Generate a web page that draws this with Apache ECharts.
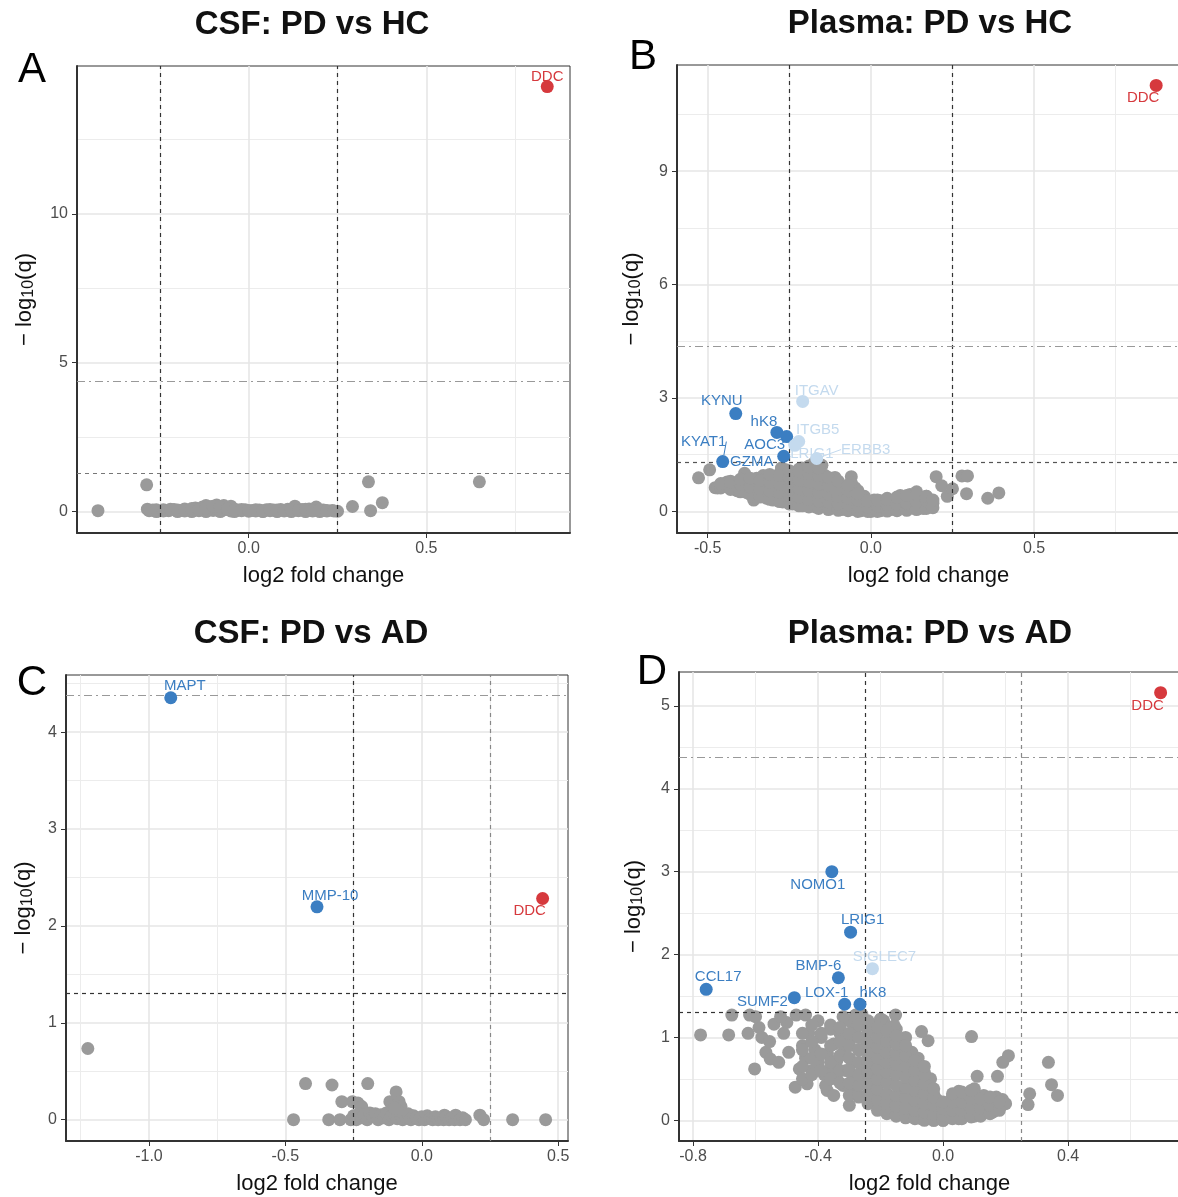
<!DOCTYPE html>
<html><head><meta charset="utf-8">
<script src="https://cdn.jsdelivr.net/npm/echarts@6.0.0/dist/echarts.min.js"></script>
<style>html,body{margin:0;padding:0;background:#fff}#c{width:1178px;height:1197px}</style>
</head><body><div id="c"></div>
<script>
// ================= DATA =================
// thresholds
const fcCut = 0.25;          // |log2 fold change| cut-off
const qCut = 1.301;          // -log10(0.05)
const bonfCut = 4.38;        // stricter (dot-dash) threshold

// Panel A: CSF PD vs HC
const A_grey = [[-0.424,0.03],[-0.287,0.9],[0.337,1.0],[0.649,1.0],[0.292,0.17],[0.343,0.03],[0.376,0.3],
[-0.285,0.08],[-0.27,0.05],[-0.255,0.02],[-0.24,0.06],[-0.225,0.03],[-0.21,0.07],[-0.195,0.04],[-0.18,0.09],[-0.165,0.05],[-0.15,0.12],[-0.14,0.03],[-0.13,0.15],[-0.12,0.08],[-0.11,0.16],[-0.1,0.04],[-0.09,0.14],[-0.08,0.1],[-0.07,0.06],[-0.06,0.12],[-0.05,0.02],[-0.04,0.08],[-0.03,0.05],[-0.02,0.03],[-0.01,0.06],[0.0,0.01],[0.01,0.04],[0.02,0.02],[0.03,0.05],[0.04,0.01],[0.05,0.06],[0.06,0.03],[0.07,0.05],[0.08,0.02],[0.09,0.07],[0.1,0.04],[0.11,0.08],[0.12,0.03],[0.13,0.1],[0.14,0.05],[0.15,0.07],[0.16,0.02],[0.17,0.09],[0.18,0.04],[0.19,0.06],[0.2,0.03],[0.21,0.05],[0.22,0.02],[0.235,0.04],[0.25,0.01],[-0.2,0.0],[-0.16,0.0],[-0.12,0.0],[-0.08,0.0],[-0.04,0.0],[0.04,0.0],[0.08,0.0],[0.12,0.0],[0.16,0.0],[0.2,0.0],[-0.26,0.0],[-0.05,0.18],[-0.12,0.2],[0.13,0.18],[0.19,0.15],[-0.09,0.22],[-0.07,0.2]];
const A_greyDense = [[-0.28,0.03],[-0.26,0.06],[-0.24,0.02],[-0.22,0.08],[-0.2,0.05],[-0.18,0.02],[-0.16,0.1],[-0.14,0.07],[-0.12,0.12],[-0.1,0.18],[-0.08,0.15],[-0.06,0.09],[-0.04,0.04],[-0.02,0.07],[0.0,0.04],[0.02,0.06],[0.04,0.03],[0.06,0.07],[0.08,0.05],[0.1,0.02],[0.12,0.06],[0.14,0.03],[0.16,0.08],[0.18,0.02],[0.2,0.06],[0.22,0.04],[0.24,0.02]];
const A_names = ['DDC'];
const A_x = [0.840];
const A_y = [14.28];
const A_cls = ['up'];

// Panel B: Plasma PD vs HC
const B_grey = [[-0.528,0.89],[-0.494,1.10],[-0.477,0.63],[-0.449,0.73],[-0.387,1.01],[-0.359,0.30],[-0.274,1.15],[-0.212,1.15],[-0.173,1.29],[-0.060,0.92],[-0.049,0.63],[0.20,0.92],[0.217,0.68],[0.234,0.40],[0.25,0.60],[0.279,0.94],[0.296,0.94],[0.293,0.47],[0.358,0.35],[0.392,0.49],
[-0.47,0.62],[-0.46,0.72],[-0.45,0.66],[-0.44,0.78],[-0.43,0.6],[-0.42,0.7],[-0.41,0.55],[-0.4,0.82],[-0.39,0.62],[-0.38,0.5],[-0.37,0.72],[-0.36,0.4],[-0.35,0.88],[-0.35,0.58],[-0.34,0.45],[-0.33,0.95],[-0.33,0.7],[-0.32,0.35],[-0.31,0.55],[-0.3,0.82],[-0.3,0.3],[-0.29,0.65],[-0.28,1.0],[-0.28,0.45],[-0.27,0.25],[-0.27,0.78],[-0.26,0.55],[-0.25,1.05],[-0.25,0.35],[-0.24,0.7],[-0.24,0.2],[-0.23,0.9],[-0.23,0.48],[-0.22,1.12],[-0.22,0.28],[-0.21,0.65],[-0.21,0.15],[-0.2,0.95],[-0.2,0.42],[-0.19,1.2],[-0.19,0.75],[-0.18,0.25],[-0.18,0.55],[-0.17,1.05],[-0.17,0.12],[-0.16,0.85],[-0.16,0.4],[-0.15,1.22],[-0.15,0.62],[-0.14,0.2],[-0.14,0.95],[-0.13,0.48],[-0.13,0.08],[-0.12,0.75],[-0.12,0.3],[-0.11,0.9],[-0.11,0.55],[-0.1,0.15],[-0.1,0.7],[-0.09,0.4],[-0.09,0.05],[-0.08,0.62],[-0.08,0.25],[-0.07,0.5],[-0.07,0.1],[-0.06,0.75],[-0.06,0.3],[-0.05,0.45],[-0.05,0.05],[-0.04,0.2],[-0.04,0.55],[-0.03,0.35],[-0.03,0.02],[-0.02,0.12],[-0.02,0.4],[-0.01,0.25],[0.0,0.0],[0.0,0.15],[0.01,0.3],[0.01,0.05],[0.02,0.18],[0.03,0.02],[0.03,0.28],[0.04,0.1],[0.05,0.22],[0.05,0.35],[0.06,0.05],[0.07,0.15],[0.07,0.3],[0.08,0.08],[0.09,0.25],[0.09,0.42],[0.1,0.12],[0.11,0.32],[0.11,0.05],[0.12,0.2],[0.12,0.45],[0.13,0.1],[0.14,0.3],[0.14,0.52],[0.15,0.15],[0.15,0.38],[0.16,0.25],[0.16,0.08],[0.17,0.4],[0.17,0.2],[0.18,0.3],[0.18,0.12],[0.19,0.22],[-0.43,0.8],[-0.38,0.78],[-0.32,0.9],[-0.26,1.1]];
const B_greyDense = [[-0.46,0.62],[-0.46,0.74],[-0.43,0.58],[-0.43,0.78],[-0.40,0.52],[-0.40,0.72],[-0.40,0.85],[-0.37,0.45],[-0.37,0.65],[-0.37,0.88],[-0.34,0.38],[-0.34,0.6],[-0.34,0.82],[-0.31,0.32],[-0.31,0.55],[-0.31,0.78],[-0.31,0.98],[-0.28,0.26],[-0.28,0.5],[-0.28,0.72],[-0.28,0.95],[-0.25,0.2],[-0.25,0.42],[-0.25,0.65],[-0.25,0.88],[-0.25,1.08],[-0.22,0.15],[-0.22,0.38],[-0.22,0.6],[-0.22,0.82],[-0.22,1.05],[-0.19,0.12],[-0.19,0.32],[-0.19,0.55],[-0.19,0.78],[-0.19,1.0],[-0.19,1.18],[-0.16,0.08],[-0.16,0.28],[-0.16,0.5],[-0.16,0.72],[-0.16,0.95],[-0.16,1.15],[-0.13,0.05],[-0.13,0.25],[-0.13,0.45],[-0.13,0.68],[-0.13,0.9],[-0.10,0.03],[-0.10,0.2],[-0.10,0.4],[-0.10,0.6],[-0.10,0.8],[-0.07,0.02],[-0.07,0.18],[-0.07,0.35],[-0.07,0.55],[-0.07,0.7],[-0.04,0.0],[-0.04,0.15],[-0.04,0.3],[-0.04,0.48],[-0.01,0.0],[-0.01,0.12],[-0.01,0.28],[0.02,0.0],[0.02,0.15],[0.02,0.3],[0.05,0.01],[0.05,0.18],[0.05,0.32],[0.08,0.02],[0.08,0.2],[0.08,0.38],[0.11,0.03],[0.11,0.22],[0.11,0.42],[0.14,0.05],[0.14,0.25],[0.14,0.45],[0.17,0.08],[0.17,0.28],[0.17,0.4],[0.19,0.1],[0.19,0.3]];
const B_names = ['DDC','KYNU','hK8','AOC3','GZMA','KYAT1','ITGAV','ITGB5','LRIG1','ERBB3'];
const B_x = [0.874,-0.414,-0.288,-0.258,-0.267,-0.454,-0.209,-0.221,-0.233,-0.166];
const B_y = [11.27,2.59,2.09,1.98,1.46,1.32,2.91,1.85,1.75,1.40];
const B_cls = ['up','down','down','down','down','down','nom','nom','nom','nom'];

// Panel C: CSF PD vs AD
const C_grey = [[-1.224,0.735],[-0.426,0.373],[-0.329,0.358],[-0.198,0.373],[-0.094,0.287],[-0.293,0.186],[-0.254,0.186],[-0.234,0.172],[-0.22,0.136],[-0.117,0.186],[-0.083,0.186],[-0.076,0.136],[-0.47,0],[-0.341,0],[-0.30,0],[0.333,0],[0.454,0],[0.213,0.047],[0.227,0],[0.083,0.047],[0.124,0.047],
[-0.26,0.0],[-0.25,0.04],[-0.24,0.0],[-0.23,0.06],[-0.22,0.02],[-0.21,0.05],[-0.2,0.0],[-0.19,0.07],[-0.18,0.03],[-0.17,0.06],[-0.16,0.0],[-0.15,0.05],[-0.14,0.02],[-0.13,0.07],[-0.12,0.0],[-0.11,0.04],[-0.1,0.06],[-0.09,0.01],[-0.08,0.05],[-0.07,0.0],[-0.06,0.03],[-0.05,0.06],[-0.04,0.0],[-0.03,0.04],[-0.02,0.02],[-0.01,0.0],[0.0,0.03],[0.01,0.0],[0.02,0.04],[0.03,0.01],[0.04,0.0],[0.05,0.03],[0.06,0.0],[0.07,0.02],[0.08,0.0],[0.09,0.03],[0.1,0.0],[0.11,0.02],[0.12,0.0],[0.13,0.03],[0.14,0.0],[0.15,0.02],[0.16,0.0],[-0.09,0.1],[-0.1,0.12]];
const C_names = ['MAPT','MMP-10','DDC'];
const C_x = [-0.920,-0.384,0.443];
const C_y = [4.355,2.197,2.283];
const C_cls = ['down','down','up'];

// Panel D: Plasma PD vs AD
const D_grey = [[-0.776,1.03],[-0.686,1.03],[-0.676,1.27],[-0.619,1.27],[-0.624,1.05],[-0.603,0.62],[-0.589,1.12],[-0.567,0.82],[-0.553,0.74],[-0.541,1.16],[-0.526,0.70],[-0.494,0.82],[-0.473,0.40],[-0.47,1.27],[-0.44,1.27],[-0.435,0.44],[-0.40,1.20],[-0.371,0.36],[-0.376,0.42],[-0.51,1.05],[-0.58,1.0],[-0.555,0.95],[-0.5,1.18],[-0.52,1.25],[-0.6,1.25],
[-0.46,0.62],[-0.45,0.9],[-0.44,0.75],[-0.43,1.05],[-0.42,0.6],[-0.41,0.85],[-0.4,0.7],[-0.39,1.0],[-0.38,0.55],[-0.37,0.8],[-0.36,1.1],[-0.36,0.62],[-0.35,0.92],[-0.34,0.5],[-0.34,0.72],[-0.33,1.05],[-0.32,0.42],[-0.32,0.82],[-0.31,0.6],[-0.3,1.2],[-0.3,0.95],[-0.29,0.35],[-0.29,0.7],[-0.28,0.52],[-0.28,1.1],[-0.27,0.85],[-0.27,0.28],[-0.26,0.62],[-0.26,1.28],[-0.25,0.45],[-0.25,0.98],[-0.24,0.75],[-0.24,0.22],[-0.23,1.15],[-0.23,0.55],[-0.22,0.88],[-0.22,0.35],[-0.21,0.68],[-0.21,1.05],[-0.2,0.15],[-0.2,0.48],[-0.19,0.82],[-0.19,1.2],[-0.18,0.3],[-0.18,0.62],[-0.17,0.95],[-0.17,0.12],[-0.16,0.45],[-0.16,0.75],[-0.15,1.1],[-0.15,0.25],[-0.14,0.58],[-0.14,0.88],[-0.13,0.08],[-0.13,0.38],[-0.12,0.7],[-0.12,1.0],[-0.11,0.2],[-0.11,0.52],[-0.1,0.82],[-0.1,0.05],[-0.09,0.35],[-0.09,0.62],[-0.08,0.15],[-0.08,0.75],[-0.07,0.45],[-0.07,0.02],[-0.06,0.28],[-0.06,0.58],[-0.05,0.1],[-0.05,0.4],[-0.04,0.22],[-0.04,0.5],[-0.03,0.0],[-0.03,0.32],[-0.02,0.12],[-0.02,0.25],[-0.01,0.05],[0.0,0.0],[0.0,0.12],[0.01,0.2],[0.02,0.05],[0.03,0.28],[0.04,0.12],[0.05,0.35],[0.05,0.02],[0.06,0.2],[0.07,0.08],[0.08,0.3],[0.09,0.15],[0.1,0.38],[0.1,0.05],[0.11,0.22],[0.12,0.1],[0.13,0.3],[0.14,0.18],[0.15,0.25],[0.16,0.1],[0.17,0.28],[0.18,0.15],[0.19,0.25],[0.2,0.2],[-0.35,0.3],[-0.32,1.25],[-0.28,1.27],[-0.2,1.22],[-0.3,0.18],[-0.45,0.5],
[0.091,1.01],[0.209,0.78],[0.191,0.70],[0.174,0.53],[0.109,0.53],[0.337,0.70],[0.347,0.43],[0.366,0.30],[0.277,0.32],[0.272,0.19],[-0.048,0.96],[-0.069,1.07],[-0.152,1.27],[-0.199,1.22],[-0.156,1.14]];
const D_greyDense = [[-0.45,0.65],[-0.45,0.85],[-0.45,1.05],[-0.42,0.55],[-0.42,0.75],[-0.42,0.95],[-0.42,1.15],[-0.39,0.6],[-0.39,0.8],[-0.39,1.05],[-0.36,0.5],[-0.36,0.7],[-0.36,0.9],[-0.36,1.15],[-0.33,0.45],[-0.33,0.6],[-0.33,0.78],[-0.33,0.95],[-0.33,1.12],[-0.30,0.3],[-0.30,0.45],[-0.30,0.6],[-0.30,0.75],[-0.30,0.9],[-0.30,1.05],[-0.27,0.3],[-0.27,0.42],[-0.27,0.55],[-0.27,0.7],[-0.27,0.85],[-0.27,1.0],[-0.27,1.15],[-0.24,0.2],[-0.24,0.32],[-0.24,0.45],[-0.24,0.58],[-0.24,0.7],[-0.24,0.82],[-0.24,0.95],[-0.24,1.08],[-0.24,1.2],[-0.21,0.12],[-0.21,0.25],[-0.21,0.38],[-0.21,0.5],[-0.21,0.62],[-0.21,0.75],[-0.21,0.88],[-0.21,1.0],[-0.21,1.12],[-0.18,0.08],[-0.18,0.2],[-0.18,0.32],[-0.18,0.45],[-0.18,0.58],[-0.18,0.7],[-0.18,0.82],[-0.18,0.95],[-0.18,1.08],[-0.15,0.05],[-0.15,0.17],[-0.15,0.3],[-0.15,0.42],[-0.15,0.55],[-0.15,0.68],[-0.15,0.8],[-0.15,0.92],[-0.15,1.02],[-0.12,0.03],[-0.12,0.15],[-0.12,0.27],[-0.12,0.4],[-0.12,0.52],[-0.12,0.65],[-0.12,0.78],[-0.12,0.9],[-0.09,0.02],[-0.09,0.12],[-0.09,0.24],[-0.09,0.36],[-0.09,0.48],[-0.09,0.6],[-0.09,0.72],[-0.06,0.0],[-0.06,0.1],[-0.06,0.2],[-0.06,0.32],[-0.06,0.44],[-0.06,0.55],[-0.06,0.65],[-0.03,0.0],[-0.03,0.08],[-0.03,0.18],[-0.03,0.28],[-0.03,0.38],[0.0,0.0],[0.0,0.06],[0.0,0.14],[0.0,0.22],[0.03,0.02],[0.03,0.12],[0.03,0.22],[0.03,0.32],[0.06,0.02],[0.06,0.12],[0.06,0.22],[0.06,0.34],[0.09,0.04],[0.09,0.14],[0.09,0.26],[0.09,0.36],[0.12,0.05],[0.12,0.15],[0.12,0.26],[0.15,0.08],[0.15,0.18],[0.15,0.28],[0.18,0.12],[0.18,0.22]];
const D_names = ['DDC','NOMO1','LRIG1','SIGLEC7','BMP-6','CCL17','SUMF2','LOX-1','hK8'];
const D_x = [0.696,-0.356,-0.296,-0.226,-0.335,-0.758,-0.476,-0.315,-0.266];
const D_y = [5.16,3.00,2.27,1.83,1.72,1.58,1.48,1.40,1.40];
const D_cls = ['up','down','down','nom','down','down','down','down','down'];

// tick values
const A_xMajor = [0, 0.5], A_xMinor = [-0.25, 0.25, 0.75], A_yMajor = [0, 5, 10], A_yMinor = [2.5, 7.5, 12.5];
const B_xMajor = [-0.5, 0, 0.5], B_xMinor = [-0.25, 0.25, 0.75], B_yMajor = [0, 3, 6, 9], B_yMinor = [1.5, 4.5, 7.5, 10.5];
const C_xMajor = [-1, -0.5, 0, 0.5], C_xMinor = [-1.25, -0.75, -0.25, 0.25], C_yMajor = [0, 1, 2, 3, 4], C_yMinor = [0.5, 1.5, 2.5, 3.5, 4.5];
const D_xMajor = [-0.8, -0.4, 0, 0.4], D_xMinor = [-0.6, -0.2, 0.2, 0.6], D_yMajor = [0, 1, 2, 3, 4, 5], D_yMinor = [0.5, 1.5, 2.5, 3.5, 4.5];

const titles = ['CSF: PD vs HC', 'Plasma: PD vs HC', 'CSF: PD vs AD', 'Plasma: PD vs AD'];
const letters = ['A', 'B', 'C', 'D'];

// ================= LAYOUT / STYLE =================
const FONT = '"Liberation Sans", Arial, Helvetica, sans-serif';
const COL = { up: '#d6393d', down: '#3b7ec2', nom: '#c4daee', grey: '#9a9a9a' };
const labelOffset = {
  'A:DDC': [0, -10],
  'B:DDC': [-13, 12], 'B:KYNU': [-14, -13], 'B:hK8': [-13, -11], 'B:AOC3': [-22, 8], 'B:GZMA': [-32, 6],
  'B:KYAT1': [-19, -20], 'B:ITGAV': [14, -11], 'B:ITGB5': [19, -12], 'B:LRIG1': [17, 9], 'B:ERBB3': [49, -9],
  'C:MAPT': [14, -12], 'C:MMP-10': [13, -11], 'C:DDC': [-13, 12],
  'D:DDC': [-13, 13], 'D:NOMO1': [-14, 13], 'D:LRIG1': [12, -12], 'D:SIGLEC7': [12, -12], 'D:BMP-6': [-20, -12],
  'D:CCL17': [12, -13], 'D:SUMF2': [-32, 4], 'D:LOX-1': [-18, -11], 'D:hK8': [13, -11]
};
const connectors = ['B:KYAT1', 'B:ERBB3'];

const panels = [
  { key: 'A', grey: A_grey.concat(A_greyDense), names: A_names, xs: A_x, ys: A_y, cls: A_cls,
    xMajor: A_xMajor, xMinor: A_xMinor, yMajor: A_yMajor, yMinor: A_yMinor,
    grid: { left: 77, top: 66, width: 493, height: 467 }, xr: [-0.483, 0.904], yr: [-0.72, 14.97],
    yGap: 40, rightVCol: '#333', hCol: '#777', title: [312, 25], letter: [32, 70] },
  { key: 'B', grey: B_grey.concat(B_greyDense), names: B_names, xs: B_x, ys: B_y, cls: B_cls,
    xMajor: B_xMajor, xMinor: B_xMinor, yMajor: B_yMajor, yMinor: B_yMinor,
    grid: { left: 677, top: 65, width: 503, height: 468 }, xr: [-0.594, 0.947], yr: [-0.57, 11.81],
    yGap: 33, rightVCol: '#333', hCol: '#555', title: [930, 24], letter: [643, 57] },
  { key: 'C', grey: C_grey, names: C_names, xs: C_x, ys: C_y, cls: C_cls,
    xMajor: C_xMajor, xMinor: C_xMinor, yMajor: C_yMajor, yMinor: C_yMinor,
    grid: { left: 66, top: 675, width: 502, height: 466 }, xr: [-1.304, 0.536], yr: [-0.22, 4.59],
    yGap: 30, rightVCol: '#888', hCol: '#333', title: [311, 634], letter: [32, 683] },
  { key: 'D', grey: D_grey.concat(D_greyDense), names: D_names, xs: D_x, ys: D_y, cls: D_cls,
    xMajor: D_xMajor, xMinor: D_xMinor, yMajor: D_yMajor, yMinor: D_yMinor,
    grid: { left: 679, top: 672, width: 501, height: 469 }, xr: [-0.845, 0.758], yr: [-0.25, 5.41],
    yGap: 33, rightVCol: '#888', hCol: '#333', title: [930, 634], letter: [652, 672] }
];

const grids = [], xAxes = [], yAxes = [], series = [], graphics = [];
const fmtX = v => (v === 0 ? '0.0' : v.toFixed(1));

panels.forEach((p, i) => {
  grids.push(Object.assign({ show: true, borderColor: '#333', borderWidth: 1, backgroundColor: 'transparent',
    containLabel: false, outerBoundsMode: 'none' }, p.grid));
  const xi = xAxes.length, yi = yAxes.length;
  // main x
  xAxes.push({ gridIndex: i, type: 'value', min: p.xr[0], max: p.xr[1], position: 'bottom',
    axisLine: { show: true, onZero: false, lineStyle: { color: '#333', width: 2 } },
    axisTick: { show: true, length: 5, customValues: p.xMajor, lineStyle: { color: '#333', width: 1 } },
    axisLabel: { customValues: p.xMajor, formatter: fmtX, color: '#4d4d4d', fontSize: 16, fontFamily: FONT, margin: 8 },
    splitLine: { show: true, lineStyle: { color: '#e6e6e6', width: 1.6 } },
    name: 'log2 fold change', nameLocation: 'middle', nameGap: 32,
    nameTextStyle: { fontSize: 22, color: '#111', fontFamily: FONT, verticalAlign: 'top' } });
  // minor x (grid only)
  xAxes.push({ gridIndex: i, type: 'value', min: p.xr[0], max: p.xr[1], position: 'top',
    axisLine: { show: false }, axisTick: { show: false, customValues: p.xMinor },
    axisLabel: { show: false, customValues: p.xMinor },
    splitLine: { show: true, lineStyle: { color: '#ececec', width: 1 } } });
  // main y
  yAxes.push({ gridIndex: i, type: 'value', min: p.yr[0], max: p.yr[1], position: 'left',
    axisLine: { show: true, onZero: false, lineStyle: { color: '#333', width: 2 } },
    axisTick: { show: true, length: 5, customValues: p.yMajor, lineStyle: { color: '#333', width: 1 } },
    axisLabel: { customValues: p.yMajor, color: '#4d4d4d', fontSize: 16, fontFamily: FONT, margin: 9 },
    splitLine: { show: true, lineStyle: { color: '#e6e6e6', width: 1.6 } },
    name: '{a|\u2212 log}{b|10}{a|(q)}', nameLocation: 'middle', nameGap: p.yGap, nameRotate: 90,
    nameTextStyle: { fontFamily: FONT, color: '#111', verticalAlign: 'bottom',
      rich: { a: { fontSize: 22, fontFamily: FONT, color: '#111', lineHeight: 25 },
              b: { fontSize: 16, fontFamily: FONT, color: '#111', lineHeight: 25, padding: [9, 0, 0, 0] } } } });
  // minor y
  yAxes.push({ gridIndex: i, type: 'value', min: p.yr[0], max: p.yr[1], position: 'right',
    axisLine: { show: false }, axisTick: { show: false, customValues: p.yMinor },
    axisLabel: { show: false, customValues: p.yMinor },
    splitLine: { show: true, lineStyle: { color: '#ececec', width: 1 } } });

  // grey points
  series.push({ type: 'scatter', xAxisIndex: xi, yAxisIndex: yi, data: p.grey, symbolSize: 13, silent: true,
    itemStyle: { color: COL.grey, opacity: 1 }, z: 2 });

  // reference lines (drawn above the grey cloud)
  const dashed = { type: [4, 4], width: 1.2 };
  series.push({ type: 'line', xAxisIndex: xi, yAxisIndex: yi, data: [], z: 8, zlevel: 0, silent: true,
    markLine: { symbol: 'none', silent: true, animation: false, z: 8, label: { show: false },
      data: [
        { xAxis: -fcCut, lineStyle: Object.assign({ color: '#333' }, dashed) },
        { xAxis: fcCut, lineStyle: Object.assign({ color: p.rightVCol }, dashed) },
        { yAxis: qCut, lineStyle: Object.assign({ color: p.hCol }, dashed) },
        { yAxis: bonfCut, lineStyle: { color: '#999', width: 1.1, type: [8, 4, 2, 4] } }
      ] } });

  // labelled points, grouped by class and connector
  const groups = {};
  p.names.forEach((n, k) => {
    const full = p.key + ':' + n;
    const g = p.cls[k] + (connectors.includes(full) ? '_c' : '');
    (groups[g] = groups[g] || []).push(k);
  });
  Object.keys(groups).forEach(g => {
    const idx = groups[g];
    const cls = g.replace('_c', '');
    const color = COL[cls];
    const names = idx.map(k => p.names[k]);
    series.push({ type: 'scatter', xAxisIndex: xi, yAxisIndex: yi, symbolSize: 13, z: 10,
      data: idx.map(k => ({ name: p.names[k], value: [p.xs[k], p.ys[k]] })),
      itemStyle: { color: color, opacity: 1 },
      label: { show: true, position: 'inside', formatter: '{b}', color: color, fontSize: 15, fontFamily: FONT },
      labelLayout: function (prm) {
        const o = labelOffset[p.key + ':' + names[prm.dataIndex]] || [0, 0];
        return { dx: o[0], dy: o[1] };
      },
      labelLine: { show: g.endsWith('_c'), lineStyle: { color: color, width: 1 } },
      emphasis: { disabled: true } });
  });

  graphics.push({ type: 'text', x: p.title[0], y: p.title[1],
    style: { text: titles[i], font: 'bold 33px ' + FONT, fill: '#111', textAlign: 'center', textVerticalAlign: 'middle' } });
  graphics.push({ type: 'text', x: p.letter[0], y: p.letter[1],
    style: { text: letters[i], font: '42px ' + FONT, fill: '#000', textAlign: 'center', textVerticalAlign: 'middle' } });
});

const chart = echarts.init(document.getElementById('c'), null, { renderer: 'canvas' });
chart.setOption({
  animation: false,
  backgroundColor: '#fff',
  grid: grids, xAxis: xAxes, yAxis: yAxes, series: series,
  graphic: graphics
});
</script></body></html>
